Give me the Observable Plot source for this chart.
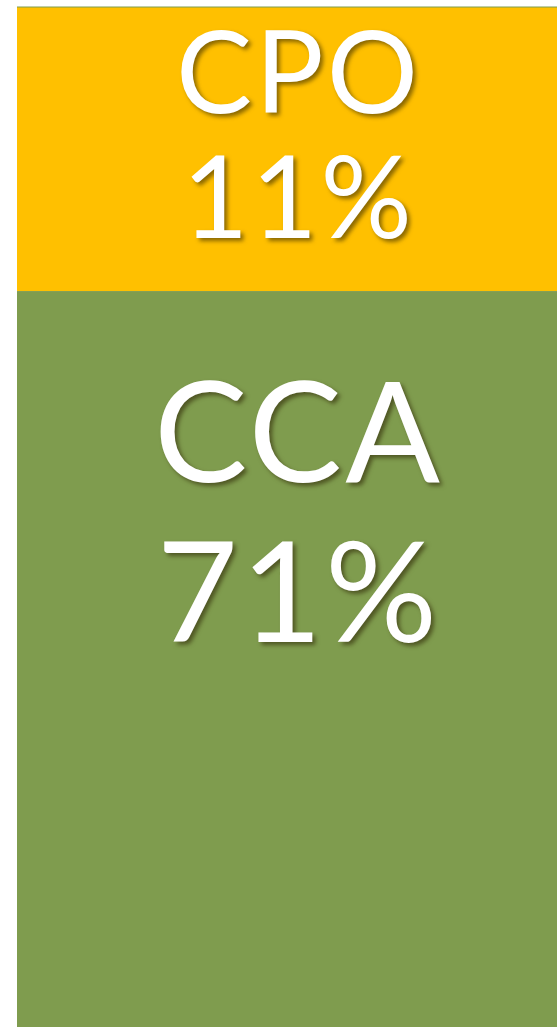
<!DOCTYPE html>
<html>
<head>
<meta charset="utf-8">
<script src="https://cdn.jsdelivr.net/npm/d3@7"></script>
<script src="https://cdn.jsdelivr.net/npm/@observablehq/plot@0.6"></script>
<style>
  html, body { margin: 0; padding: 0; background: #fff; overflow: hidden; }
  #chart svg { overflow: hidden !important; display: block; }
  .lbl { filter: drop-shadow(3px 3px 2px rgba(40,30,0,0.55)); }
  .lbl text { letter-spacing: 3px; }
</style>
</head>
<body>
<div id="chart"></div>
<script>
const segments = ["CPO", "CCA"];
const shares = [11, 71];
const colors = ["#FFC000", "#7F9C4E"];
const group = "share";

const data = segments.map((s, i) => ({ group, name: s, value: shares[i], label: `${s}\n${shares[i]}%` }));
// stacked positions from the top
let acc = 0;
data.forEach(d => { d.y1 = acc; d.y2 = acc + d.value; acc = d.y2; });

const plot = Plot.plot({
  width: 557,
  height: 1027,
  marginLeft: 17,
  marginRight: -18,
  marginTop: 7,
  marginBottom: 0,
  x: { domain: [group], padding: 0, axis: null },
  y: { domain: [0, 39.5], reverse: true, axis: null },
  color: { domain: segments, range: colors },
  marks: [
    Plot.rectY(data, { x: "group", y1: "y1", y2: "y2", fill: "name", clip: true }),
    Plot.ruleY([0], { stroke: colors[1], strokeWidth: 1, dy: -0.5 }),
    Plot.text(data.filter(d => d.name === "CPO"), {
      x: "group", y: "y1", text: "label", lineAnchor: "top", dy: 17, dx: 2,
      fill: "white", fontSize: 114, lineHeight: 1.096, fontFamily: "Lato", fontWeight: 400,
      className: "lbl"
    }),
    Plot.text(data.filter(d => d.name === "CCA"), {
      x: "group", y: "y1", text: "label", lineAnchor: "top", dy: 77, dx: 2,
      fill: "white", fontSize: 140, lineHeight: 1.143, fontFamily: "Lato", fontWeight: 400,
      className: "lbl"
    })
  ]
});
document.getElementById("chart").appendChild(plot);
</script>
</body>
</html>
